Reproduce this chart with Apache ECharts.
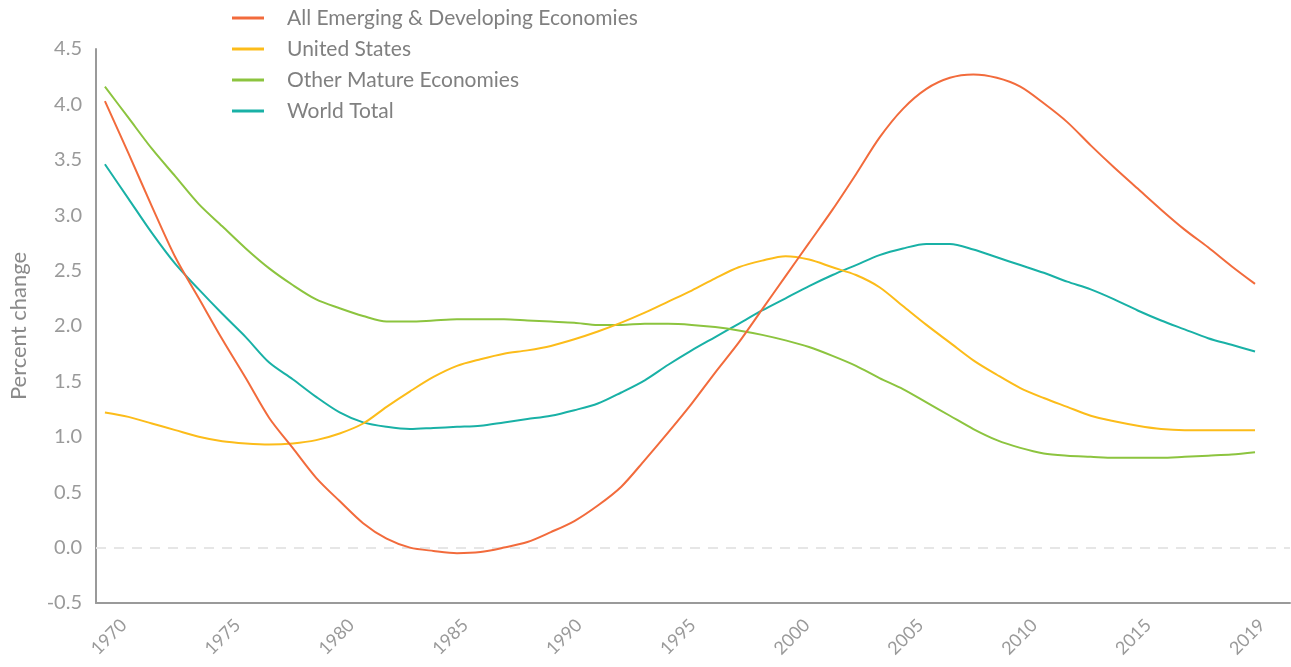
<!DOCTYPE html>
<html>
<head>
<meta charset="utf-8">
<script src="https://cdn.jsdelivr.net/npm/echarts@6/dist/echarts.min.js"></script>
<style>html,body{margin:0;padding:0;background:#fff}#c{width:1291px;height:667px}</style>
</head>
<body>
<div id="c"></div>
<script>
const years = [];
for (let y = 1970; y <= 2019; y++) years.push(y);
const xTickLabels = ['1970', '1975', '1980', '1985', '1990', '1995', '2000', '2005', '2010', '2015', '2019'];
const seriesNames = ['All Emerging & Developing Economies', 'United States', 'Other Mature Economies', 'World Total'];
const emerging = [4.03,3.56,3.08,2.62,2.25,1.88,1.53,1.17,0.90,0.63,0.42,0.22,0.08,0.00,-0.03,-0.05,-0.04,0.00,0.05,0.14,0.24,0.38,0.55,0.79,1.04,1.30,1.58,1.85,2.15,2.45,2.75,3.05,3.37,3.70,3.96,4.14,4.24,4.27,4.24,4.16,4.01,3.84,3.63,3.43,3.24,3.05,2.87,2.71,2.54,2.38];
const unitedStates = [1.22,1.18,1.12,1.06,1.00,0.96,0.94,0.93,0.94,0.97,1.03,1.12,1.27,1.41,1.54,1.64,1.70,1.75,1.78,1.82,1.88,1.95,2.03,2.12,2.22,2.32,2.43,2.53,2.59,2.63,2.60,2.53,2.46,2.35,2.18,2.01,1.85,1.69,1.56,1.44,1.35,1.27,1.19,1.14,1.10,1.07,1.06,1.06,1.06,1.06];
const otherMature = [4.16,3.88,3.60,3.35,3.10,2.90,2.70,2.52,2.37,2.24,2.16,2.09,2.04,2.04,2.05,2.06,2.06,2.06,2.05,2.04,2.03,2.01,2.01,2.02,2.02,2.01,1.99,1.96,1.92,1.87,1.81,1.73,1.64,1.53,1.43,1.31,1.19,1.07,0.97,0.90,0.85,0.83,0.82,0.81,0.81,0.81,0.82,0.83,0.84,0.86];
const worldTotal = [3.46,3.15,2.84,2.56,2.33,2.11,1.90,1.67,1.52,1.36,1.22,1.13,1.09,1.07,1.08,1.09,1.10,1.13,1.16,1.19,1.24,1.30,1.40,1.51,1.65,1.78,1.90,2.02,2.14,2.25,2.36,2.46,2.55,2.64,2.70,2.74,2.74,2.69,2.62,2.55,2.48,2.40,2.33,2.24,2.14,2.05,1.97,1.89,1.83,1.77];
const colors = ['#f26b3c', '#fcbc1a', '#8cc43f', '#19b1a6'];

const values = [emerging, unitedStates, otherMature, worldTotal];
// tick labels are evenly spaced along the axis (the last step 2015->2019 gets the same width)
const labelStart = 1970.17, labelStep = 4.85;
const labelPos = xTickLabels.map((_, k) => labelStart + k * labelStep);
const font = 'Lato, "Open Sans", sans-serif';
const chart = echarts.init(document.getElementById('c'), null, {renderer: 'canvas'});
chart.setOption({
  animation: false,
  color: colors,
  grid: {left: 96, right: 1, top: 49, bottom: 64, containLabel: false, outerBoundsMode: 'none'},
  legend: {
    orient: 'vertical', left: 232, top: 7, padding: 0, itemGap: 9,
    itemWidth: 32, itemHeight: 3, icon: 'rect',
    textStyle: {fontFamily: font, fontSize: 21, color: '#808080', padding: [0,0,0,18], lineHeight: 22},
    data: seriesNames
  },
  xAxis: {
    type: 'value', min: 1969.62, max: 2020.49,
    axisLine: {show: true, onZero: false, lineStyle: {color: '#9a9a9a', width: 2}},
    axisTick: {show: false},
    splitLine: {show: false},
    axisLabel: {
      customValues: labelPos, rotate: 45, align: 'center', verticalAlign: 'middle',
      color: '#9a9a9a', fontFamily: font, fontSize: 18, margin: 34,
      formatter: v => xTickLabels[Math.round((v - labelStart) / labelStep)]
    }
  },
  yAxis: {
    type: 'value', min: -0.5, max: 4.5, interval: 0.5,
    name: 'Percent change', nameLocation: 'middle', nameGap: 66,
    nameTextStyle: {fontFamily: font, fontSize: 22, color: '#8a8a8a'},
    axisLine: {show: true, onZero: false, lineStyle: {color: '#9a9a9a', width: 2}},
    axisTick: {show: false},
    splitLine: {show: false},
    axisLabel: {color: '#9a9a9a', fontFamily: font, fontSize: 20, margin: 14, formatter: v => v.toFixed(1)}
  },
  series: seriesNames.map((name, i) => ({
    name, type: 'line', showSymbol: false, symbol: 'none', smooth: 0.3,
    lineStyle: {width: 2, color: colors[i]},
    data: years.map((y, k) => [y, values[i][k]]),
    markLine: i === 0 ? {
      silent: true, symbol: 'none', label: {show: false},
      lineStyle: {type: [10, 8], color: '#e6e6e6', width: 2, opacity: 1},
      emphasis: {disabled: true},
      data: [{yAxis: 0}]
    } : undefined,
    z: 10 - i
  }))
});
</script>
</body>
</html>
